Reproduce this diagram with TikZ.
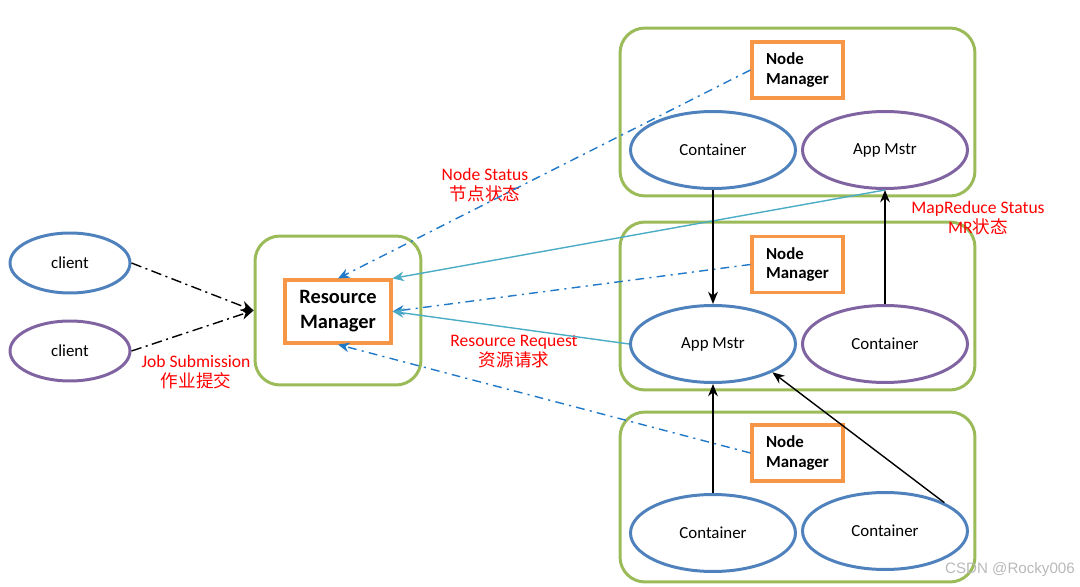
\documentclass[tikz,border=0pt]{standalone}
\usepackage{fontspec}
\setmainfont{Carlito}
\newfontfamily\cjk{Noto Sans CJK SC}
\newfontfamily\wmfont{Liberation Sans}
\usetikzlibrary{shapes.geometric,arrows.meta}

\definecolor{elblue}{HTML}{4F81BD}
\definecolor{elpurple}{HTML}{8064A2}
\definecolor{boxgreen}{HTML}{9BBB59}
\definecolor{boxorange}{HTML}{F79646}
\definecolor{statblue}{HTML}{1F78C8}
\definecolor{reqblue}{HTML}{4BACC6}

\begin{document}
\begin{tikzpicture}[x=0.02cm,y=-0.02cm]
\useasboundingbox (0,0) rectangle (1080,587);
\begin{scope}
	\tikzstyle{every node}=[align=center, font=\fontsize{9.6}{11.3}\selectfont]
	\tikzstyle{cell}=[draw, ellipse, line width=1.7pt, minimum width=3.3cm, minimum height=1.54cm, inner sep=0pt]
	\tikzstyle{cli}=[draw, ellipse, line width=1.7pt, minimum width=2.4cm, minimum height=1.2cm, inner sep=0pt]
	\tikzstyle{nodebox}=[draw=boxgreen, rounded corners=0.5cm, line width=1.7pt, minimum width=7.1cm, minimum height=3.36cm]
	\tikzstyle{nm}=[draw=boxorange, line width=1.8pt, minimum width=1.82cm, minimum height=1.12cm, align=left, font=\bfseries\fontsize{9.6}{11.3}\selectfont]
	\tikzstyle{lbl}=[text=red, font=\fontsize{10}{11.3}\selectfont]
	\tikzstyle{mrarr}=[line width=0.8pt, -{Stealth[length=7pt,width=5.5pt]}]
	\tikzstyle{jobarr}=[line width=0.8pt, dash pattern=on 6pt off 2.5pt on 1.2pt off 2.5pt, -{Stealth[length=7pt,width=6pt]}]
	\tikzstyle{statarr}=[statblue, line width=0.8pt, dash pattern=on 5pt off 3pt on 1.2pt off 3pt, -{Stealth[length=6.5pt,width=5.5pt]}]
	\tikzstyle{reqarr}=[reqblue, line width=0.8pt, -{Stealth[length=6.5pt,width=5.5pt]}]

	% clients
	\node[cli, draw=elblue] (cl1) at (70,263) {client};
	\node[cli, draw=elpurple] (cl2) at (70,351) {client};

	% resource manager
	\node[nodebox, minimum width=3.32cm, minimum height=2.98cm] (rmo) at (338,310.5) {};
	\node[draw=boxorange, line width=1.8pt, minimum width=2.12cm, minimum height=1.26cm, font=\bfseries\fontsize{11.6}{14.2}\selectfont] (rm) at (338,311.5) {Resource\\Manager};

	% node 1
	\node[nodebox] (n1) at (797.5,112) {};
	\node[nm] (nm1) at (797.5,70) {Node\\Manager};
	\node[cell, draw=elblue] (c1) at (713,150) {Container};
	\node[cell, draw=elpurple] (am1) at (885,150) {App Mstr};

	% node 2
	\node[nodebox] (n2) at (797.5,306) {};
	\node[nm] (nm2) at (797.5,264.5) {Node\\Manager};
	\node[cell, draw=elblue] (am2) at (713,344) {App Mstr};
	\node[cell, draw=elpurple] (c2) at (885,344) {Container};

	% node 3
	\node[nodebox, minimum height=3.4cm] (n3) at (797.5,497) {};
	\node[nm] (nm3) at (797.5,453) {Node\\Manager};
	\node[cell, draw=elblue] (c3a) at (713,533) {Container};
	\node[cell, draw=elblue] (c3b) at (885,531) {Container};

	% labels
	\node[lbl] (ns) at (485,185) {Node Status\\{\cjk 节点状态}};
	\node[lbl] (mrs) at (978,218) {MapReduce Status\\MR{\cjk 状态}};
	\node[lbl] (rr) at (514,352) {Resource Request\\{\cjk 资源请求}};
	\node[lbl] (js) at (196,372) {Job Submission\\{\cjk 作业提交}};
	\node[text=gray!55, font=\wmfont\fontsize{8.6}{10}\selectfont] (wm) at (1010,570) {CSDN @Rocky006};

	% job submission
	\draw [jobarr] (cl1.east) -- (rmo.west);
	\draw [jobarr] (cl2.east) -- (rmo.west);

	% node status
	\draw [statarr] (nm1.west) -- (rm.north);
	\draw [statarr] (nm2.west) -- (rm.east);
	\draw [statarr] (nm3.west) -- (rm.south);

	% requests
	\draw [reqarr] (am1.south) -- (rm.north east);
	\draw [reqarr] (am2.west) -- (rm.east);

	% app master links
	\draw [mrarr] (c1.south) -- (am2.north);
	\draw [mrarr] (c2.north) -- (am1.south);
	\draw [mrarr] (c3a.north) -- (am2.south);
	\draw [mrarr] (c3b.north east) -- (am2.south east);
\end{scope}
\end{tikzpicture}
\end{document}
